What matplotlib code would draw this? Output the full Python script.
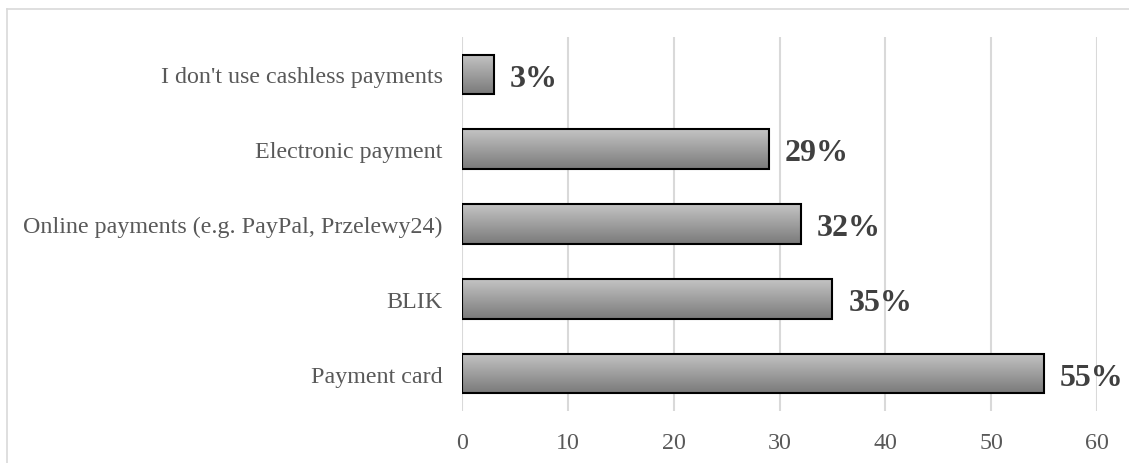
import matplotlib
matplotlib.use("Agg")
import matplotlib.pyplot as plt
import numpy as np
from matplotlib.lines import Line2D

categories = ["Payment card", "BLIK", "Online payments (e.g. PayPal, Przelewy24)",
              "Electronic payment", "I don't use cashless payments"]
values = [55, 35, 32, 29, 3]
labels = ["55%", "35%", "32%", "29%", "3%"]
xticks = [0, 10, 20, 30, 40, 50, 60]

plt.rcParams['font.family'] = ['Liberation Serif', 'DejaVu Serif']

fig = plt.figure(figsize=(11.29, 4.64), dpi=100)
ax = fig.add_axes([462/1129, 1 - 412/464, (1097-462)/1129, (412-38)/464])

y = np.arange(len(categories))
bars = ax.barh(y, values, height=0.53, color='none', edgecolor='black', linewidth=1.5, zorder=3)

grad = np.linspace(0, 1, 256).reshape(-1, 1)
cmap = matplotlib.colors.LinearSegmentedColormap.from_list('g', ['#7a7a7a', '#c4c4c4'])
for b in bars:
    x0, y0, w, h = b.get_x(), b.get_y(), b.get_width(), b.get_height()
    ax.imshow(grad, extent=[x0, x0 + w, y0, y0 + h], origin='lower',
              cmap=cmap, aspect='auto', zorder=2)

for b, lab in zip(bars, labels):
    ax.text(b.get_width() + 1.5, b.get_y() + b.get_height() / 2 - 0.05, lab,
            ha='left', va='center', fontsize=23, fontweight='bold', color='#404040', zorder=4)

ax.set_xlim(0, 60)
ax.set_ylim(-0.5, len(categories) - 0.5)
ax.set_xticks(xticks)
ax.set_xticklabels([str(t) for t in xticks])
ax.set_yticks(y)
ax.set_yticklabels(categories)
ax.tick_params(axis='both', length=0, labelsize=17.3, labelcolor='#595959')
ax.tick_params(axis='x', pad=15)
ax.tick_params(axis='y', pad=14)
ax.grid(axis='x', color='#d9d9d9', linewidth=1.5, zorder=0)
for s in ax.spines.values():
    s.set_visible(False)
ax.set_axisbelow(True)

fig.add_artist(Line2D([7/1129, 7/1129], [0, 1 - 10/464], transform=fig.transFigure, color='#d9d9d9', linewidth=1.2))
fig.add_artist(Line2D([7/1129, 1], [1 - 10/464, 1 - 10/464], transform=fig.transFigure, color='#d9d9d9', linewidth=1.2))

fig.savefig("out.png", dpi=100)
